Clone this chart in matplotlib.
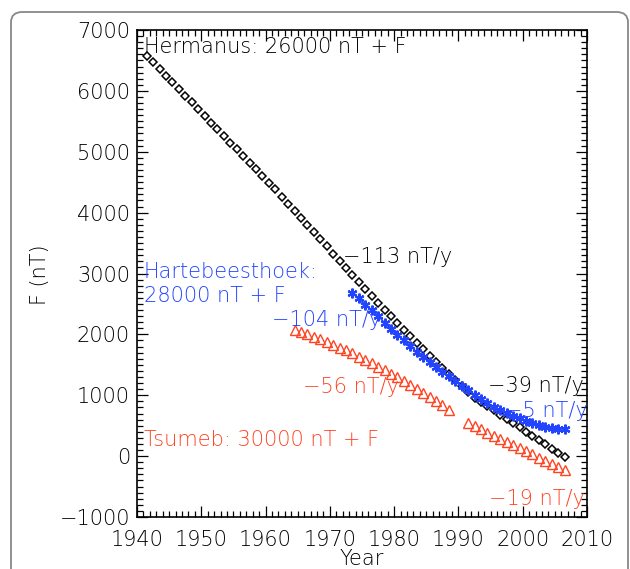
import matplotlib
matplotlib.use("Agg")
import matplotlib.pyplot as plt
from matplotlib.patches import FancyBboxPatch
from matplotlib.ticker import MultipleLocator

# ---- data ----
her_years = [1941.5 + i for i in range(66)]
her_F = [6580, 6470, 6360, 6250, 6140, 6030, 5920, 5810, 5700, 5590,
         5480, 5370, 5260, 5150, 5040, 4930, 4820, 4710, 4600, 4490,
         4380, 4263, 4146, 4029, 3912, 3795, 3678, 3561, 3444, 3327,
         3210, 3093, 2976, 2859, 2742, 2625, 2508, 2401, 2294, 2187,
         2080, 1973, 1866, 1759, 1652, 1545, 1448, 1351, 1254, 1157,
         1060, 963, 893, 823, 753, 683, 613, 543, 473, 403,
         333, 263, 193, 123, 53, -17]

hbk_years = [1973.5 + i for i in range(34)]
hbk_F = [2685, 2590, 2490, 2395, 2300, 2195, 2095, 1995, 1900, 1805,
         1715, 1630, 1550, 1470, 1390, 1310, 1235, 1160, 1085, 1010,
         940, 870, 810, 760, 710, 665, 620, 575, 540, 510,
         485, 465, 450, 440]

tsu1_years = [1964.5 + i for i in range(25)]
tsu1_F = [2080, 2042, 2003, 1962, 1920, 1876, 1831, 1784, 1736, 1686,
          1635, 1582, 1528, 1472, 1415, 1356, 1296, 1234, 1171, 1106,
          1040, 972, 903, 833, 761]
tsu2_years = [1991.5 + i for i in range(16)]
tsu2_F = [540, 489, 438, 386, 335, 284, 233, 182, 130, 79,
          28, -23, -74, -126, -177, -228]

xticks = [1940, 1950, 1960, 1970, 1980, 1990, 2000, 2010]
yticks = [-1000, 0, 1000, 2000, 3000, 4000, 5000, 6000, 7000]

BLUE = '#2244ff'
RED = '#ff4422'
TXT = '#000000'
FS = 15

plt.rcParams['font.family'] = ['DejaVu Sans']
plt.rcParams['font.weight'] = 'light'

fig = plt.figure(figsize=(6.30, 5.69), dpi=100)
W, H = 630, 569
ax = fig.add_axes([137 / W, 1 - 517 / H, (587 - 137) / W, (517 - 30) / H])

ax.plot(her_years, her_F, linestyle='none', marker='D', markersize=4.4,
        markerfacecolor='white', markeredgecolor='black', markeredgewidth=1.1)
ax.plot(hbk_years, hbk_F, color=BLUE, lw=1.0, marker=(6, 2, 0),
        markersize=7, markeredgewidth=1.6, markeredgecolor=BLUE)
for yy, ff in ((tsu1_years, tsu1_F), (tsu2_years, tsu2_F)):
    ax.plot(yy, ff, linestyle='none', marker='^', markersize=6.5,
            markerfacecolor='none', markeredgecolor=RED, markeredgewidth=1.0)

ax.set_xlim(1940, 2010)
ax.set_ylim(-1000, 7000)
ax.set_xticks(xticks)
ax.set_yticks(yticks)
ax.set_yticklabels([str(v).replace('-', '\u2212') for v in yticks])
ax.xaxis.set_minor_locator(MultipleLocator(1))
ax.yaxis.set_minor_locator(MultipleLocator(100))
ax.tick_params(which='both', direction='in', top=True, right=True,
               labelsize=FS, color='black', labelcolor=TXT, width=0.9)
ax.tick_params(which='major', length=8)
ax.tick_params(which='minor', length=4)
ax.tick_params(axis='x', which='major', pad=9)
ax.tick_params(axis='y', which='major', pad=5)
for s in ax.spines.values():
    s.set_linewidth(1.2)

def px(x, y):
    return (x / W, 1 - y / H)

def t(x, y, s, c, ha='left', **kw):
    fig.text(*px(x, y), s, color=c, fontsize=FS, ha=ha, va='center', **kw)

t(362, 559, 'Year', TXT, ha='center')
t(40, 275, 'F (nT)', TXT, ha='center', rotation=90)

t(144, 47, 'Hermanus: 26000 nT + F', TXT)
t(343, 257, '\u2212113 nT/y', TXT)
t(144, 272, 'Hartebeesthoek:', BLUE)
t(144, 296, '28000 nT + F', BLUE)
t(381, 320, '\u2212104 nT/y', BLUE, ha='right')
t(399, 387, '\u221256 nT/y', RED, ha='right')
t(144, 440, 'Tsumeb: 30000 nT + F', RED)
t(584, 386, '\u221239 nT/y', TXT, ha='right')
t(588, 411, '\u22125 nT/y', BLUE, ha='right')
t(585, 499, '\u221219 nT/y', RED, ha='right')

frame = FancyBboxPatch((11 / W, -30 / H), (628 - 11) / W, (569 + 30 - 12) / H,
                       boxstyle='round,pad=0,rounding_size=0.018',
                       transform=fig.transFigure, fill=False,
                       edgecolor='#888888', linewidth=1.3)
fig.patches.append(frame)

fig.savefig('out.png', dpi=100)
